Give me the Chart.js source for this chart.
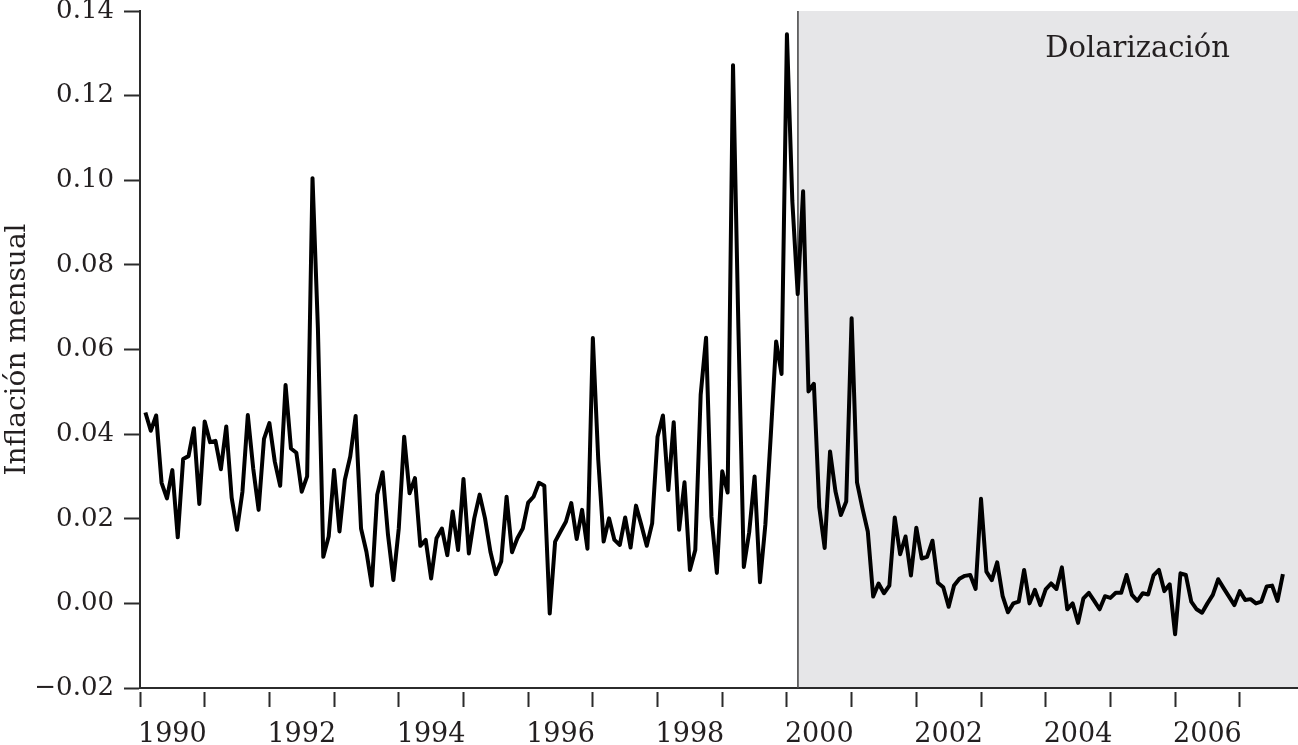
<!DOCTYPE html>
<html>
<head>
<meta charset="utf-8">
<script src="https://cdn.jsdelivr.net/npm/chart.js@4.4.1/dist/chart.umd.min.js"></script>
<style>
  html, body { margin: 0; padding: 0; background: #ffffff; }
  #wrap { width: 1298px; height: 745px; position: relative; }
</style>
</head>
<body>
<div id="wrap"><canvas id="c" width="1298" height="745"></canvas></div>
<script>
// ---- Data ----
const startYear = 1990;          // first observation: January 1990 (monthly series)
const inflacion = [
  0.0451, 0.0408, 0.0444, 0.0285, 0.0248, 0.0315, 0.0156, 0.0341, 0.0348, 0.0414, 0.0235, 0.0430,
  0.0381, 0.0384, 0.0317, 0.0418, 0.0250, 0.0174, 0.0264, 0.0445, 0.0319, 0.0221, 0.0389, 0.0426,
  0.0335, 0.0278, 0.0516, 0.0366, 0.0356, 0.0264, 0.0300, 0.1005, 0.0650, 0.0110, 0.0158, 0.0315,
  0.0170, 0.0292, 0.0347, 0.0443, 0.0177, 0.0122, 0.0042, 0.0257, 0.0310, 0.0162, 0.0055, 0.0177,
  0.0394, 0.0260, 0.0296, 0.0136, 0.0150, 0.0059, 0.0154, 0.0177, 0.0114, 0.0217, 0.0126, 0.0294,
  0.0118, 0.0201, 0.0257, 0.0201, 0.0122, 0.0069, 0.0099, 0.0252, 0.0121, 0.0154, 0.0177, 0.0238,
  0.0252, 0.0285, 0.0278, -0.0024, 0.0146, 0.0170, 0.0193, 0.0237, 0.0152, 0.0221, 0.0129, 0.0627,
  0.0340, 0.0146, 0.0201, 0.0150, 0.0138, 0.0203, 0.0132, 0.0231, 0.0185, 0.0136, 0.0189, 0.0394,
  0.0444, 0.0268, 0.0428, 0.0174, 0.0286, 0.0079, 0.0126, 0.0493, 0.0628, 0.0205, 0.0072, 0.0312,
  0.0262, 0.1272, 0.0650, 0.0086, 0.0168, 0.0300, 0.0050, 0.0186, 0.0396, 0.0619, 0.0542, 0.1345,
  0.0951, 0.0731, 0.0974, 0.0501, 0.0519, 0.0227, 0.0131, 0.0359, 0.0265, 0.0209, 0.0241, 0.0674,
  0.0286, 0.0225, 0.0170, 0.0016, 0.0047, 0.0024, 0.0042, 0.0203, 0.0116, 0.0158, 0.0066, 0.0179,
  0.0106, 0.0110, 0.0148, 0.0049, 0.0038, -0.0008, 0.0042, 0.0058, 0.0065, 0.0067, 0.0034, 0.0247,
  0.0075, 0.0055, 0.0097, 0.0018, -0.0021, 0.0000, 0.0004, 0.0079, 0.0000, 0.0032, -0.0004, 0.0033,
  0.0047, 0.0034, 0.0085, -0.0014, 0.0000, -0.0046, 0.0012, 0.0025, 0.0006, -0.0014, 0.0017, 0.0013,
  0.0025, 0.0025, 0.0067, 0.0020, 0.0006, 0.0024, 0.0021, 0.0066, 0.0079, 0.0029, 0.0045, -0.0073,
  0.0071, 0.0067, 0.0004, -0.0014, -0.0022, 0.0000, 0.0020, 0.0057, 0.0036, 0.0016, -0.0004, 0.0029,
  0.0008, 0.0010, 0.0000, 0.0004, 0.0040, 0.0042, 0.0006, 0.0069
];
const yearTicks   = [1990,1991,1992,1993,1994,1995,1996,1997,1998,1999,2000,2001,2002,2003,2004,2005,2006,2007];
const yearLabels  = ["1990","1992","1994","1996","1998","2000","2002","2004","2006"];
const yTicks      = [-0.02, 0.00, 0.02, 0.04, 0.06, 0.08, 0.10, 0.12, 0.14];
const dolarizacionStart = 2000.17;
const dolarizacionLabel = { text: "Dolarización", x: 2005.42, y: 0.131 };
const yTitle = "Inflación mensual";

// ---- Build chart structures from the arrays ----
const points = inflacion.map((v, i) => ({ x: startYear + (i + 1) / 12, y: v }));
const xMin = 1990, xMax = 2007.9, yMin = -0.02, yMax = 0.14;

const FONT = "'DejaVu Serif', serif";
const TXT = '#231f20';
const AX = '#2b2b2b';

const shadePlugin = {
  id: 'shade',
  beforeDraw(chart) {
    const { ctx, chartArea, scales } = chart;
    const x0 = scales.x.getPixelForValue(dolarizacionStart);
    ctx.save();
    ctx.fillStyle = '#e6e6e8';
    ctx.fillRect(x0, chartArea.top, chart.width - x0, chartArea.bottom - chartArea.top);
    ctx.restore();
  },
  beforeDatasetsDraw(chart) {
    const { ctx, chartArea, scales } = chart;
    const x0 = scales.x.getPixelForValue(dolarizacionStart);
    ctx.save();
    ctx.strokeStyle = '#4a4a4a';
    ctx.lineWidth = 1.6;
    ctx.beginPath();
    ctx.moveTo(x0, chartArea.top);
    ctx.lineTo(x0, chartArea.bottom);
    ctx.stroke();
    ctx.fillStyle = TXT;
    ctx.font = "29px " + FONT;
    ctx.textAlign = 'center';
    ctx.textBaseline = 'middle';
    ctx.fillText(dolarizacionLabel.text,
      scales.x.getPixelForValue(dolarizacionLabel.x),
      scales.y.getPixelForValue(dolarizacionLabel.y));
    ctx.restore();
  }
};

new Chart(document.getElementById('c'), {
  type: 'line',
  data: {
    datasets: [{
      data: points,
      borderColor: '#000000',
      borderWidth: 4,
      pointRadius: 0,
      tension: 0,
      borderJoinStyle: 'round',
      fill: false
    }]
  },
  options: {
    responsive: false,
    animation: false,
    events: [],
    layout: { padding: { top: 11, right: 0, bottom: 0, left: 0 } },
    plugins: { legend: { display: false }, tooltip: { enabled: false } },
    scales: {
      x: {
        type: 'linear',
        position: 'bottom',
        min: xMin, max: xMax,
        afterBuildTicks(scale) { scale.ticks = yearTicks.map(v => ({ value: v })); },
        afterFit(scale) { scale.height = 20; scale.paddingLeft = 0; scale.paddingRight = 0; },
        ticks: { display: false },
        border: { display: true, color: AX, width: 2 },
        grid: {
          drawOnChartArea: false, drawTicks: true, tickLength: 19,
          tickColor: AX, tickWidth: 2, tickBorderDash: [0, 3, 16, 60]
        }
      },
      x2: {
        type: 'linear',
        position: 'bottom',
        min: xMin, max: xMax,
        afterBuildTicks(scale) { scale.ticks = yearLabels.map(s => ({ value: Number(s) + 0.5 })); },
        afterFit(scale) { scale.height = 37; scale.paddingLeft = 0; scale.paddingRight = 0; },
        ticks: {
          autoSkip: false, maxRotation: 0, padding: 11, color: TXT,
          font: { family: FONT, size: 27 },
          callback: (v) => String(Math.floor(v))
        },
        border: { display: false },
        grid: { display: false, drawTicks: false }
      },
      y: {
        type: 'linear',
        min: yMin, max: yMax,
        afterBuildTicks(scale) { scale.ticks = yTicks.map(v => ({ value: v })); },
        afterFit(scale) { scale.width = 140; scale.paddingTop = 0; scale.paddingBottom = 0; },
        ticks: {
          padding: 10, color: TXT,
          font: { family: FONT, size: 26 },
          callback: (v) => (v < -1e-9 ? '\u2212' + Math.abs(v).toFixed(2) : Math.abs(v).toFixed(2))
        },
        border: { display: true, color: AX, width: 2 },
        grid: { drawOnChartArea: false, drawTicks: true, tickLength: 16, tickColor: AX, tickWidth: 2 },
        title: {
          display: true, text: yTitle, color: TXT,
          font: { family: FONT, size: 28 }, padding: { top: 1, bottom: 0 }
        }
      }
    }
  },
  plugins: [shadePlugin]
});
</script>
</body>
</html>
